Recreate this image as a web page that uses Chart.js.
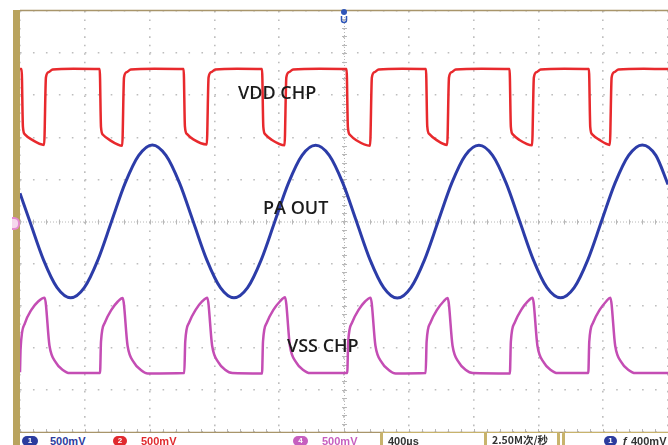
<!DOCTYPE html>
<html lang="zh">
<head>
<meta charset="UTF-8">
<title>VDD CHP / PA OUT / VSS CHP</title>
<style>
    body {
        margin: 0;
        width: 668px;
        height: 445px;
        overflow: hidden;
        background: #fff;
        position: relative;
        font-family: "Liberation Sans", Arial, sans-serif;
    }
    #scopeBox {
        position: absolute;
        left: 0;
        top: 0;
        width: 668px;
        height: 433px;
    }
    #leftBar {
        position: absolute;
        left: 13px;
        top: 10px;
        width: 7px;
        height: 435px;
        background: #b9a35e;
    }
    #gndMark {
        position: absolute;
        left: 12px;
        top: 217px;
        width: 6px;
        height: 9px;
        border: 2px solid #e58ad0;
        border-left: none;
        border-radius: 0 6px 6px 0;
        background: #f6d8ee;
    }
    .st {
        position: absolute;
        top: 436px;
        font-weight: bold;
        font-size: 11px;
        line-height: 11px;
        white-space: nowrap;
    }
    .pill {
        position: absolute;
        top: 436px;
        height: 10px;
        border-radius: 6px;
        color: #fff;
        font-weight: bold;
        font-size: 8px;
        line-height: 10px;
        text-align: center;
    }
    .box {
        position: absolute;
        top: 432px;
        height: 14px;
        border-left: 3px solid #c8b36c;
        border-right: 3px solid #c8b36c;
        border-top: 1px solid #c8b36c;
        border-radius: 2px 2px 0 0;
    }
</style>
</head>
<body>
<div id="scopeBox"><canvas id="scope"></canvas></div>
<div id="leftBar"></div>
<div id="gndMark"></div>

<!-- status line -->
<div class="pill" style="left:22px;width:16px;background:#2c3c9e">1</div>
<div class="st" style="left:50px;color:#2c3c9e">500mV</div>
<div class="pill" style="left:113px;width:14px;background:#e02a2e">2</div>
<div class="st" style="left:141px;color:#e02a2e">500mV</div>
<div class="pill" style="left:293px;width:15px;background:#c65fbf">4</div>
<div class="st" style="left:322px;color:#c65fbf">500mV</div>
<div class="box" style="left:380px;width:101px"></div>
<div class="st" style="left:388px;color:#333">400µs</div>
<div class="box" style="left:484px;width:70px"></div>
<div class="st" style="left:492px;color:#333;font-family:'Noto Sans CJK SC','Liberation Sans',sans-serif;font-size:10.5px;top:434px">2.50M次/秒</div>
<div class="box" style="left:562px;width:110px;border-right:none"></div>
<div class="pill" style="left:604px;width:13px;background:#2c3c9e">1</div>
<div class="st" style="left:622px;color:#333">ƒ</div>
<div class="st" style="left:631px;color:#333">400mV</div>

<script src="https://cdn.jsdelivr.net/npm/chart.js"></script>
<script>
// time in µs (400 µs/div, 10 div), level in screen divisions (center = 0)
const vddTime = [0, 10, 18, 30, 70, 149, 160, 177, 202, 330,
    492, 500, 512, 552, 631, 642, 659, 684, 830,
    1010, 1018, 1030, 1070, 1153, 1164, 1181, 1206, 1340,
    1494, 1502, 1514, 1554, 1633, 1644, 1661, 1686, 1850,
    2016, 2024, 2036, 2076, 2161, 2172, 2189, 2214, 2360,
    2506, 2514, 2526, 2566, 2637, 2648, 2665, 2690, 2850,
    3022, 3030, 3042, 3082, 3161, 3172, 3189, 3214, 3360,
    3512, 3520, 3532, 3572, 3641, 3652, 3669, 3694, 3850, 4000];
const vddLevel = [3.62, 3.62, 2.25, 2.07, 1.95, 1.82, 3.42, 3.55, 3.61, 3.63,
    3.62, 2.24, 2.06, 1.94, 1.80, 3.42, 3.55, 3.61, 3.63,
    3.62, 2.26, 2.08, 1.95, 1.83, 3.42, 3.55, 3.61, 3.63,
    3.62, 2.25, 2.07, 1.94, 1.81, 3.42, 3.55, 3.61, 3.63,
    3.62, 2.24, 2.06, 1.93, 1.80, 3.42, 3.55, 3.61, 3.63,
    3.62, 2.26, 2.08, 1.95, 1.82, 3.42, 3.55, 3.61, 3.63,
    3.62, 2.25, 2.07, 1.94, 1.81, 3.42, 3.55, 3.61, 3.63,
    3.62, 2.25, 2.07, 1.95, 1.82, 3.42, 3.55, 3.61, 3.63, 3.62];

const paTime = [0, 61, 145, 229, 313, 397, 481, 565, 649, 733, 817, 901, 985,
    1069, 1153, 1237, 1321, 1405, 1489, 1573, 1657, 1741, 1825, 1909, 1993,
    2077, 2161, 2245, 2329, 2413, 2497, 2581, 2665, 2749, 2833, 2917, 3001,
    3085, 3169, 3253, 3337, 3421, 3505, 3589, 3673, 3757, 3841, 3925, 4000];
const paLevel = [0.67, 0, -0.91, -1.57, -1.81, -1.57, -0.91, 0, 0.91, 1.57, 1.82, 1.57, 0.91,
    0, -0.91, -1.57, -1.81, -1.57, -0.91, 0, 0.91, 1.57, 1.81, 1.57, 0.91,
    0, -0.91, -1.57, -1.82, -1.57, -0.91, 0, 0.91, 1.57, 1.81, 1.57, 0.91,
    0, -0.91, -1.57, -1.81, -1.57, -0.91, 0, 0.91, 1.57, 1.82, 1.57, 0.88];

const vssTime = [0, 4, 30, 70, 112, 152, 182, 222, 262, 307,
    494, 500, 524, 564, 604, 634, 664, 704, 744, 789,
    1014, 1020, 1044, 1084, 1124, 1156, 1186, 1226, 1266, 1311,
    1494, 1500, 1524, 1564, 1604, 1636, 1666, 1706, 1746, 1791,
    2020, 2026, 2050, 2090, 2130, 2164, 2194, 2234, 2274, 2319,
    2504, 2510, 2534, 2574, 2614, 2640, 2670, 2710, 2750, 2795,
    3024, 3030, 3054, 3094, 3134, 3164, 3194, 3234, 3274, 3319,
    3508, 3514, 3538, 3578, 3618, 3644, 3674, 3714, 3754, 3799, 4000];
const vssLevel = [-3.58, -3.0, -2.42, -2.10, -1.90, -1.81, -2.95, -3.35, -3.52, -3.60,
    -3.60, -2.85, -2.40, -2.10, -1.90, -1.82, -2.95, -3.35, -3.52, -3.61,
    -3.60, -2.85, -2.40, -2.10, -1.90, -1.81, -2.95, -3.35, -3.52, -3.60,
    -3.61, -2.85, -2.40, -2.10, -1.90, -1.80, -2.95, -3.35, -3.52, -3.60,
    -3.60, -2.85, -2.40, -2.10, -1.90, -1.81, -2.95, -3.35, -3.52, -3.61,
    -3.60, -2.85, -2.40, -2.10, -1.90, -1.82, -2.95, -3.35, -3.52, -3.60,
    -3.61, -2.85, -2.40, -2.10, -1.90, -1.81, -2.95, -3.35, -3.52, -3.60,
    -3.60, -2.85, -2.40, -2.10, -1.90, -1.81, -2.95, -3.35, -3.52, -3.60, -3.60];

function pts(ts, vs) {
    return ts.map((t, i) => ({ x: t, y: vs[i] }));
}

// trace names drawn on the screen
const traceLabels = [
    { text: 'VDD CHP', t: 1346, v: 2.90 },
    { text: 'PA OUT', t: 1500, v: 0.19 },
    { text: 'VSS CHP', t: 1648, v: -3.10 }
];

const scopeDecor = {
    id: 'scopeDecor',
    beforeDatasetsDraw(chart) {
        const ctx = chart.ctx;
        const xs = chart.scales.x, ys = chart.scales.y;
        const a = chart.chartArea;
        const cx = xs.getPixelForValue(2000);
        const cy = ys.getPixelForValue(0);
        ctx.save();
        // center cross with minor ticks
        ctx.strokeStyle = '#b8b8b8';
        ctx.lineWidth = 1;
        ctx.setLineDash([1, 2]);
        ctx.beginPath();
        ctx.moveTo(a.left, cy + 0.5); ctx.lineTo(a.right, cy + 0.5);
        ctx.moveTo(cx + 0.5, a.top); ctx.lineTo(cx + 0.5, a.bottom);
        ctx.stroke();
        ctx.setLineDash([]);
        ctx.beginPath();
        for (let t = 0; t <= 4000; t += 80) {
            const px = Math.round(xs.getPixelForValue(t)) + 0.5;
            ctx.moveTo(px, cy - 2); ctx.lineTo(px, cy + 3);
            ctx.moveTo(px, a.bottom - 3); ctx.lineTo(px, a.bottom);
        }
        for (let v = -5; v <= 5.001; v += 0.2) {
            const py = Math.round(ys.getPixelForValue(v)) + 0.5;
            ctx.moveTo(cx - 2, py); ctx.lineTo(cx + 3, py);
        }
        ctx.stroke();
        // frame
        ctx.strokeStyle = '#a8956a';
        ctx.lineWidth = 1.5;
        ctx.beginPath();
        ctx.moveTo(a.left, a.top - 0.5); ctx.lineTo(a.right, a.top - 0.5);
        ctx.moveTo(a.left, a.bottom + 0.5); ctx.lineTo(a.right, a.bottom + 0.5);
        ctx.stroke();
        ctx.restore();
    },
    afterDatasetsDraw(chart) {
        const ctx = chart.ctx;
        const xs = chart.scales.x, ys = chart.scales.y;
        const a = chart.chartArea;
        ctx.save();
        ctx.fillStyle = '#1b1b1b';
        ctx.font = '600 18px "Open Sans"';
        ctx.textBaseline = 'alphabetic';
        traceLabels.forEach(l => {
            ctx.fillText(l.text, xs.getPixelForValue(l.t), ys.getPixelForValue(l.v));
        });
        // trigger position marker
        const cx = xs.getPixelForValue(2000);
        ctx.fillStyle = '#2f56b8';
        ctx.beginPath();
        ctx.arc(cx, a.top + 1, 3, 0, Math.PI * 2);
        ctx.fill();
        ctx.strokeStyle = '#2f56b8';
        ctx.lineWidth = 1.5;
        ctx.beginPath();
        ctx.moveTo(cx - 2.5, a.top + 5);
        ctx.lineTo(cx - 2.5, a.top + 9);
        ctx.arc(cx, a.top + 9, 2.5, Math.PI, 0, true);
        ctx.lineTo(cx + 2.5, a.top + 5);
        ctx.stroke();
        ctx.restore();
    }
};

new Chart(document.getElementById('scope'), {
    type: 'scatter',
    data: {
        datasets: [
            {
                label: 'PA OUT',
                data: pts(paTime, paLevel),
                borderColor: '#2c3ca8',
                borderWidth: 3,
                cubicInterpolationMode: 'monotone'
            },
            {
                label: 'VDD CHP',
                data: pts(vddTime, vddLevel),
                borderColor: '#e8292d',
                borderWidth: 2.5,
                cubicInterpolationMode: 'monotone'
            },
            {
                label: 'VSS CHP',
                data: pts(vssTime, vssLevel),
                borderColor: '#c44db4',
                borderWidth: 2.5,
                cubicInterpolationMode: 'monotone'
            }
        ]
    },
    options: {
        responsive: true,
        maintainAspectRatio: false,
        animation: false,
        showLine: true,
        elements: { point: { radius: 0, hoverRadius: 0 } },
        layout: { padding: { left: 20, top: 11, right: 0, bottom: 1 } },
        plugins: {
            legend: { display: false },
            tooltip: { enabled: false }
        },
        scales: {
            x: {
                type: 'linear',
                min: 0,
                max: 4000,
                ticks: { display: false, stepSize: 400 },
                grid: { color: '#bdbdbd', drawTicks: false, lineWidth: 1.6 },
                border: { display: false, dash: [1.6, 6.84] }
            },
            y: {
                type: 'linear',
                min: -5,
                max: 5,
                ticks: { display: false, stepSize: 1 },
                grid: { color: '#bdbdbd', drawTicks: false, lineWidth: 1.6 },
                border: { display: false, dash: [1.6, 11.36] }
            }
        }
    },
    plugins: [scopeDecor]
});
</script>
</body>
</html>
